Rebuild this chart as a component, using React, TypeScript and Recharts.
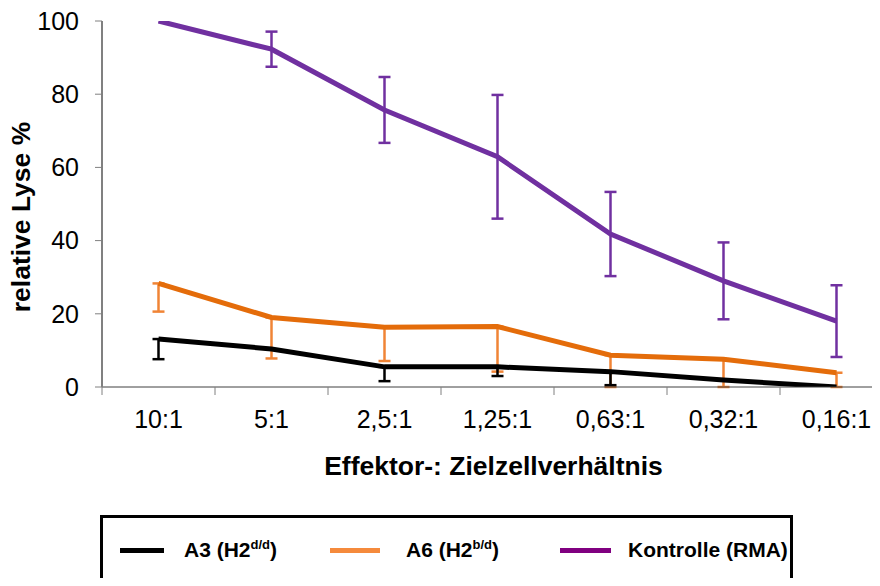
import React from "react";
import { LineChart, Line, XAxis, YAxis, ErrorBar, Legend } from "recharts";

const categories = ["10:1", "5:1", "2,5:1", "1,25:1", "0,63:1", "0,32:1", "0,16:1"];

const a3Values = [13.1, 10.4, 5.5, 5.5, 4.2, 1.9, 0];
const a3LowErr = [5.5, 0, 3.9, 2.5, 3.7, 0, 0];

const a6Values = [28.3, 19.0, 16.3, 16.5, 8.7, 7.6, 3.9];
const a6LowErr = [7.7, 11.2, 9.2, 12.3, 8.7, 7.6, 3.9];

const ctrlValues = [100, 92.3, 75.7, 62.9, 41.8, 29, 18];
const ctrlErr = [0, 4.8, 9, 16.9, 11.5, 10.5, 9.8];

const yTicks = [0, 20, 40, 60, 80, 100];

const legendBase = ["A3 (H2", "A6 (H2", "Kontrolle (RMA)"];
const legendSup = ["d/d", "b/d", ""];
const legendTail = [")", ")", ""];
const legendColors = ["#000000", "#F58A3C", "#800080"];

const FONT = "Arial, 'Liberation Sans', sans-serif";

// x runs 0..7, each category sits in the middle of its slot
const data = categories.map((cat, i) => ({
  x: i + 0.5,
  cat,
  a3: a3Values[i],
  a3Err: a3LowErr[i] ? [a3LowErr[i], 0] : null,
  a6: a6Values[i],
  a6Err: a6LowErr[i] ? [a6LowErr[i], 0] : null,
  ctrl: ctrlValues[i],
  ctrlErr: ctrlErr[i] || null,
}));

const xTicks: number[] = [];
for (let i = 0; i <= categories.length * 2; i++) xTicks.push(i / 2);

const TICK_SIZE = 8;

function XTick(props: any) {
  const { x, y, payload } = props;
  const v = payload.value as number;
  const axisY = y - TICK_SIZE;
  if (Number.isInteger(v)) {
    return <line x1={x} x2={x} y1={axisY} y2={axisY + TICK_SIZE} stroke="#808080" strokeWidth={1} />;
  }
  return (
    <text x={x} y={axisY + 41} textAnchor="middle" fontSize={25} fontFamily={FONT} fill="#000">
      {categories[Math.floor(v)]}
    </text>
  );
}

function XTitle(props: any) {
  const { x, y, width } = props.viewBox;
  return (
    <text x={x + width / 2 - 4} y={y + 88} textAnchor="middle" fontSize={26.5} fontWeight="bold" fontFamily={FONT} fill="#000">
      Effektor-: Zielzellverhältnis
    </text>
  );
}

function YTitle(props: any) {
  const { y, height } = props.viewBox;
  const cy = y + height / 2 + 13;
  return (
    <text
      x={30}
      y={cy}
      transform={`rotate(-90 30 ${cy})`}
      textAnchor="middle"
      fontSize={26.5}
      fontWeight="bold"
      fontFamily={FONT}
      fill="#000"
    >
      relative Lyse %
    </text>
  );
}

const legendLineX = [20, 230, 460];
const legendLineW = [44, 50, 51];
const legendTextX = [84, 306, 528];

function LegendBox() {
  return (
    <div
      style={{
        position: "relative",
        width: 693,
        height: 90,
        boxSizing: "border-box",
        border: "3px solid #000",
        background: "#fff",
        fontFamily: FONT,
      }}
    >
      {legendBase.map((base, i) => (
        <React.Fragment key={base}>
          <div
            style={{
              position: "absolute",
              left: legendLineX[i] - 3,
              top: 33 - 3,
              width: legendLineW[i],
              height: 5,
              background: legendColors[i],
            }}
          />
          <div
            style={{
              position: "absolute",
              left: legendTextX[i] - 3,
              top: 20,
              fontSize: 21,
              fontWeight: "bold",
              color: "#000",
              whiteSpace: "nowrap",
              lineHeight: "24px",
            }}
          >
            {base}
            {legendSup[i] && <sup style={{ fontSize: 13, lineHeight: 0 }}>{legendSup[i]}</sup>}
            {legendTail[i]}
          </div>
        </React.Fragment>
      ))}
    </div>
  );
}

export default function App() {
  return (
    <div style={{ margin: -8, width: 880, height: 586, overflow: "hidden", position: "relative", background: "#fff" }}>
      <LineChart width={900} height={586} data={data} margin={{ top: 21, right: 7, left: 2, bottom: 99 }}>
        <XAxis
          dataKey="x"
          type="number"
          domain={[0, categories.length]}
          ticks={xTicks}
          interval={0}
          height={100}
          tickSize={TICK_SIZE}
          tickMargin={0}
          tickLine={false}
          tick={XTick}
          axisLine={{ stroke: "#404040", strokeWidth: 1 }}
          label={XTitle}
        />
        <YAxis
          type="number"
          domain={[0, 100]}
          ticks={yTicks}
          allowDataOverflow
          width={100}
          tickSize={7}
          tickMargin={16}
          tick={{ fontSize: 25, fill: "#000", fontFamily: FONT }}
          tickLine={{ stroke: "#808080" }}
          axisLine={{ stroke: "#808080", strokeWidth: 2 }}
          label={YTitle}
        />
        <Legend
          verticalAlign="middle"
          align="center"
          layout="horizontal"
          wrapperStyle={{ left: 100, top: 515, width: 693 }}
          content={() => <LegendBox />}
        />
        <Line dataKey="a6" name="A6" stroke="#E46C0A" strokeWidth={5} dot={false} isAnimationActive={false}>
          <ErrorBar dataKey="a6Err" direction="y" width={6} stroke="#F08436" strokeWidth={2.5} />
        </Line>
        <Line dataKey="a3" name="A3" stroke="#000000" strokeWidth={5} dot={false} isAnimationActive={false}>
          <ErrorBar dataKey="a3Err" direction="y" width={6} stroke="#000000" strokeWidth={2.5} />
        </Line>
        <Line dataKey="ctrl" name="Kontrolle" stroke="#7030A0" strokeWidth={5} dot={false} isAnimationActive={false}>
          <ErrorBar dataKey="ctrlErr" direction="y" width={6} stroke="#7030A0" strokeWidth={2.5} />
        </Line>
      </LineChart>
    </div>
  );
}
